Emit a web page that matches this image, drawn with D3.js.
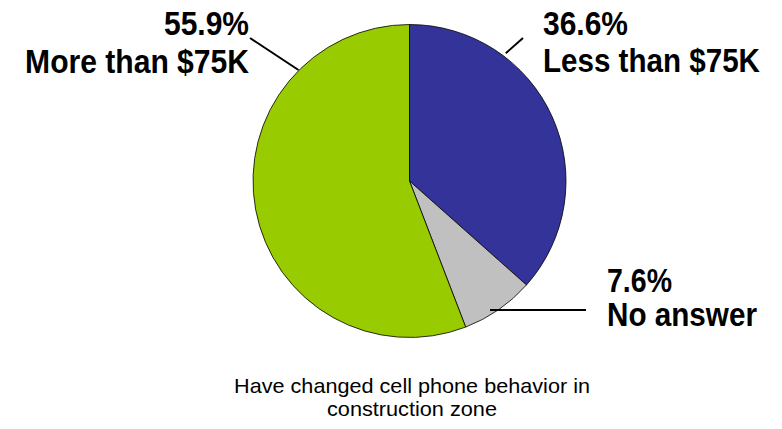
<!DOCTYPE html>
<html>
  <head>
    <meta charset="utf-8">
    <title>Cell phone behavior</title>
    <style>
      body { margin: 0; background: #fff; }
      svg { display: block; }
      .lbl { font-family: "Liberation Sans", Arial, sans-serif; font-weight: bold; font-size: 33px; fill: #000; }
      .cap { font-family: "Liberation Sans", Arial, sans-serif; font-size: 20px; fill: #000; }
      .lead { stroke: #000; stroke-width: 2; fill: none; }
    </style>
  </head>
  <body>
    <div id="chart"></div>
    <script src="https://d3js.org/d3.v7.min.js"></script>
    <script>
    // slice values, clockwise from 12 o'clock
    var categories = ['Less than $75K', 'No answer', 'More than $75K'],
        values = [36.6, 7.6, 55.9],
        pctLabels = ['36.6%', '7.6%', '55.9%'],
        colors = ['#333399', '#c0c0c0', '#99cc00'],
        caption = ['Have changed cell phone behavior in', 'construction zone']

    var width = 782,
        height = 429,
        cx = 409.5,
        cy = 181,
        r = 156.5

    var svg = d3.select('#chart')
      .append('svg')
      .attr('width', width)
      .attr('height', height)

    var pie = d3.pie().sort(null).value(function(d) { return d })
    var arc = d3.arc().innerRadius(0).outerRadius(r)

    var arcs = pie(values)

    var g = svg.append('g').attr('transform', 'translate(' + cx + ',' + cy + ')')

    g.selectAll('path')
      .data(arcs)
      .enter()
      .append('path')
      .attr('d', arc)
      .attr('fill', function(d, i) { return colors[i] })
      .attr('stroke', '#000')
      .attr('stroke-width', 0.8)

    // draws text squeezed horizontally to a given width (no narrow font installed)
    function narrowText(cls, str, x, y, w, anchor) {
      var holder = svg.append('g')
      var t = holder.append('text')
        .attr('class', cls)
        .attr('text-anchor', anchor)
        .text(str)
      var k = w / t.node().getComputedTextLength()
      holder.attr('transform', 'translate(' + x + ',' + y + ') scale(' + k + ',1)')
      return holder
    }

    // label layout: text position, widths, leader start (angle deg, radius) and end
    var place = [
      { x: 543, y: 35, dy: 37, anchor: 'start', w: [85, 217], a: 37, rad: 160, end: [523, 38] },
      { x: 607, y: 292, dy: 34, anchor: 'start', w: [65, 150], a: 148, rad: 152, end: [586, 310] },
      { x: 249, y: 35, dy: 38, anchor: 'end', w: [85, 224], a: -45, rad: 157, end: [250, 38] }
    ]

    arcs.forEach(function(d, i) {
      var p = place[i]
      var s = d3.pointRadial(p.a * Math.PI / 180, p.rad)
      var x1 = cx + s[0], y1 = cy + s[1]
      if (i === 1) y1 = p.end[1]
      svg.append('line')
        .attr('class', 'lead')
        .attr('x1', x1).attr('y1', y1)
        .attr('x2', p.end[0]).attr('y2', p.end[1])

      narrowText('lbl', pctLabels[i], p.x, p.y, p.w[0], p.anchor)
      narrowText('lbl', categories[i], p.x, p.y + p.dy, p.w[1], p.anchor)
    })

    var capW = [356, 170]
    caption.forEach(function(c, i) {
      narrowText('cap', c, 412, 393 + i * 23, capW[i], 'middle')
    })
    </script>
  </body>
</html>
